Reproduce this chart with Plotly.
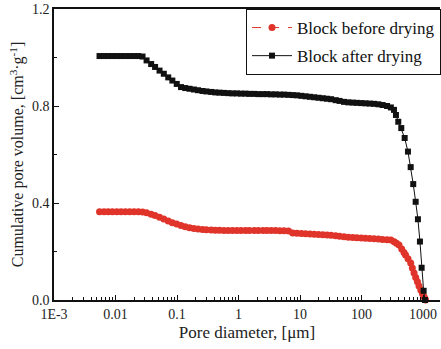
import plotly.graph_objects as go

# Pore diameter (um) shared grid for the dense part of both curves
diam_common = [0.0055, 0.0065, 0.0076, 0.0089, 0.0105, 0.0123, 0.0145, 0.017, 0.02, 0.0235,
               0.0275, 0.032, 0.038, 0.044, 0.052, 0.061, 0.072, 0.084, 0.099, 0.116,
               0.136, 0.16, 0.188, 0.22, 0.26, 0.3, 0.36, 0.42, 0.49, 0.58,
               0.68, 0.8, 0.94, 1.1, 1.3, 1.5, 1.8, 2.1, 2.5, 2.9,
               3.4, 4.0, 4.7, 5.5, 6.5, 7.6, 8.9, 10.5, 12.3, 14.5,
               17, 20, 23.5, 27.5, 32, 38, 44, 52, 61, 72,
               84, 99, 116, 136, 160, 188, 220, 260]

after_common = [1.006, 1.006, 1.006, 1.006, 1.006, 1.006, 1.006, 1.006, 1.006, 1.006,
                1.004, 0.988, 0.973, 0.961, 0.946, 0.933, 0.918, 0.905, 0.891, 0.878,
                0.874, 0.871, 0.868, 0.865, 0.862, 0.860, 0.858, 0.856, 0.855, 0.854,
                0.853, 0.852, 0.852, 0.851, 0.851, 0.850, 0.850, 0.849, 0.849, 0.849,
                0.848, 0.848, 0.847, 0.847, 0.846, 0.845, 0.844, 0.842, 0.840, 0.838,
                0.836, 0.834, 0.832, 0.830, 0.828, 0.824, 0.821, 0.817, 0.815, 0.814,
                0.813, 0.812, 0.811, 0.810, 0.809, 0.807, 0.804, 0.800]

before_common = [0.364, 0.364, 0.364, 0.364, 0.364, 0.364, 0.364, 0.364, 0.364, 0.364,
                 0.363, 0.360, 0.354, 0.348, 0.341, 0.334, 0.326, 0.319, 0.313, 0.307,
                 0.302, 0.298, 0.295, 0.293, 0.291, 0.290, 0.289, 0.288, 0.288, 0.287,
                 0.287, 0.287, 0.287, 0.287, 0.287, 0.287, 0.287, 0.287, 0.287, 0.287,
                 0.287, 0.287, 0.286, 0.286, 0.285, 0.276, 0.275, 0.274, 0.273, 0.272,
                 0.271, 0.270, 0.269, 0.268, 0.267, 0.265, 0.263, 0.261, 0.259, 0.258,
                 0.257, 0.256, 0.255, 0.254, 0.253, 0.252, 0.250, 0.248]

# Macropore (steep) region
diam_after_tail = [300, 337, 363, 396, 443, 503, 569, 630, 693, 759, 826, 891, 949, 1023, 1074]
after_tail = [0.794, 0.784, 0.763, 0.735, 0.709, 0.668, 0.612, 0.548, 0.478, 0.405, 0.333,
              0.241, 0.133, 0.038, 0.0]

diam_before_tail = [300, 340, 370, 407, 450, 490, 520, 570, 630, 670, 715, 760, 812, 860,
                    920, 980, 1035, 1070, 1100]
before_tail = [0.247, 0.240, 0.234, 0.227, 0.210, 0.196, 0.186, 0.170, 0.153, 0.132, 0.111,
               0.093, 0.075, 0.058, 0.041, 0.026, 0.014, 0.006, 0.0]

x_tickvals = [0.001, 0.01, 0.1, 1, 10, 100, 1000]
x_ticktext = ["1E-3", "0.01", "0.1", "1", "10", "100", "1000"]
y_tickvals = [0.0, 0.4, 0.8, 1.2]
y_ticktext = ["0.0", "0.4", "0.8", "1.2"]

RED = "#e0342a"
BLACK = "#111111"
FONT = "Liberation Serif, Times New Roman, serif"

fig = go.Figure()
fig.add_trace(go.Scatter(
    x=diam_common + diam_before_tail, y=before_common + before_tail,
    mode="lines+markers", name="Block before drying", legendgroup="a",
    line=dict(color=RED, width=1, dash="dash"),
    marker=dict(symbol="circle", size=7, color=RED),
    cliponaxis=False,
))
fig.add_trace(go.Scatter(
    x=diam_common + diam_after_tail, y=after_common + after_tail,
    mode="lines+markers", name="Block after drying", legendgroup="b",
    line=dict(color=BLACK, width=1),
    marker=dict(symbol="square", size=6, color=BLACK),
    cliponaxis=False,
))

fig.update_layout(
    width=441, height=349,
    margin=dict(l=54, r=0, t=9, b=49),
    paper_bgcolor="white", plot_bgcolor="white",
    font=dict(family=FONT, size=14, color="#222"),
    showlegend=True,
    legend=dict(
        x=0.497, y=1.0, xanchor="left", yanchor="top",
        bordercolor="#111", borderwidth=1, bgcolor="white",
        font=dict(family=FONT, size=17, color="#111"),
        tracegroupgap=3, itemwidth=40,
    ),
    xaxis=dict(
        type="log", range=[-3, 3.276],
        tickvals=x_tickvals, ticktext=x_ticktext,
        ticks="inside", ticklen=5, tickwidth=1, tickcolor="#111",
        minor=dict(ticks="inside", ticklen=3, tickcolor="#111", dtick="D1", showgrid=False),
        showline=True, linecolor="#111", linewidth=1.5, mirror=True,
        showgrid=False, zeroline=False,
        tickfont=dict(family=FONT, size=14, color="#222"),
        title=dict(text="Pore diameter, [μm]", font=dict(family=FONT, size=17, color="#222"), standoff=6),
    ),
    yaxis=dict(
        range=[0, 1.2],
        tickvals=y_tickvals, ticktext=y_ticktext,
        ticks="inside", ticklen=5, tickwidth=1, tickcolor="#111",
        minor=dict(ticks="inside", ticklen=3, tickcolor="#111", dtick=0.2, showgrid=False),
        showline=True, linecolor="#111", linewidth=1.5, mirror=False,
        showgrid=False, zeroline=False,
        tickfont=dict(family=FONT, size=14, color="#222"),
        title=dict(text="Cumulative pore volume, [cm<sup>3</sup>·g<sup>-1</sup>]",
                   font=dict(family=FONT, size=16, color="#222"), standoff=4),
    ),
)

fig.write_html("out.html", config={"displayModeBar": False},
               post_script="document.body.style.margin='0';document.body.style.padding='0';")
